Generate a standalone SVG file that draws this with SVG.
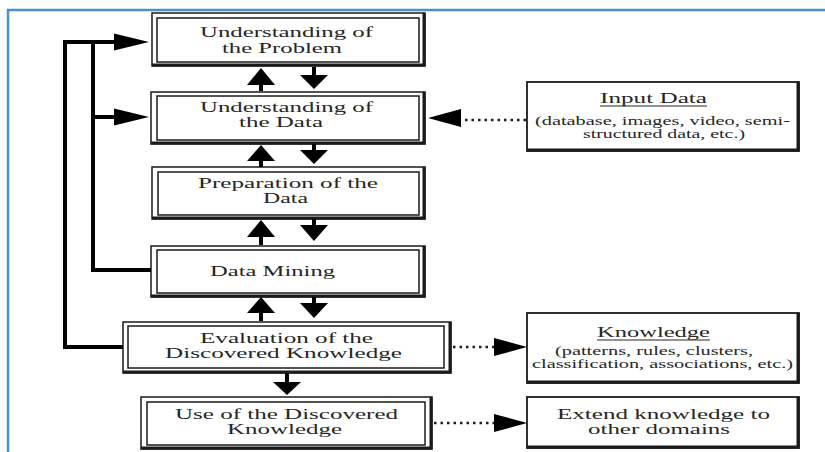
<svg xmlns="http://www.w3.org/2000/svg" width="825" height="452" viewBox="0 0 825 452">
<style>
  .frame { fill: none; stroke: #4a8fd6; stroke-width: 2.5; }
  .outer { fill: #ffffff; stroke: #1a1a1a; stroke-width: 1.5; }
  .inner { fill: #ffffff; stroke: #1a1a1a; stroke-width: 1.5; }
  .shadow { fill: none; stroke: #1a1a1a; stroke-width: 3; }
  .single { fill: #ffffff; stroke: #1a1a1a; stroke-width: 1.8; }
  .t { font-family: "Liberation Serif", "Times New Roman", serif; font-size: 14px; fill: #262626; text-anchor: middle; }
  .h { font-family: "Liberation Serif", "Times New Roman", serif; font-size: 15px; fill: #262626; text-anchor: middle; }
  .s { font-family: "Liberation Serif", "Times New Roman", serif; font-size: 12px; fill: #262626; text-anchor: middle; }
  .ul { stroke: #262626; stroke-width: 1; }
  .thick { fill: none; stroke: #000; stroke-width: 4; stroke-linejoin: miter; }
  .stem { stroke: #000; stroke-width: 4; }
  .head { fill: #000; }
  .dots { fill: none; stroke: #1a1a30; stroke-width: 2.5; stroke-dasharray: 2.5 4; }
</style>

<path class="frame" d="M 8 460 L 8 10 L 830 10"/>

<g id="understanding-problem">
  <rect class="outer" x="152" y="13" width="273" height="53"/>
  <path class="shadow" d="M 424 13 V 65 H 152"/>
  <rect class="inner" x="157" y="18" width="262" height="44"/>
  <text class="t" x="286.5" y="37" textLength="173" lengthAdjust="spacingAndGlyphs">Understanding of</text>
  <text class="t" x="282" y="52.5" textLength="120" lengthAdjust="spacingAndGlyphs">the Problem</text>
</g>

<g id="understanding-data">
  <rect class="outer" x="151" y="92" width="274" height="52"/>
  <path class="shadow" d="M 424 92 V 143 H 151"/>
  <rect class="inner" x="157" y="96" width="262" height="44"/>
  <text class="t" x="286.5" y="112" textLength="173" lengthAdjust="spacingAndGlyphs">Understanding of</text>
  <text class="t" x="281" y="127" textLength="84" lengthAdjust="spacingAndGlyphs">the Data</text>
</g>

<g id="preparation-data">
  <rect class="outer" x="152" y="167" width="273" height="52"/>
  <path class="shadow" d="M 424 167 V 218 H 152"/>
  <rect class="inner" x="158" y="172" width="261" height="43"/>
  <text class="t" x="288" y="188" textLength="180" lengthAdjust="spacingAndGlyphs">Preparation of the</text>
  <text class="t" x="285.5" y="203" textLength="45" lengthAdjust="spacingAndGlyphs">Data</text>
</g>

<g id="data-mining">
  <rect class="outer" x="151" y="246" width="274" height="51"/>
  <path class="shadow" d="M 424 246 V 296 H 151"/>
  <rect class="inner" x="157" y="250" width="262" height="43"/>
  <text class="t" x="272.5" y="276" textLength="125" lengthAdjust="spacingAndGlyphs">Data Mining</text>
</g>

<g id="evaluation">
  <rect class="outer" x="123" y="322" width="328" height="51"/>
  <path class="shadow" d="M 450 322 V 372 H 123"/>
  <rect class="inner" x="128" y="326" width="316" height="42"/>
  <text class="t" x="286.5" y="343" textLength="173" lengthAdjust="spacingAndGlyphs">Evaluation of the</text>
  <text class="t" x="283.5" y="357.5" textLength="237" lengthAdjust="spacingAndGlyphs">Discovered Knowledge</text>
</g>

<g id="use-knowledge">
  <rect class="outer" x="141" y="397" width="291" height="52"/>
  <path class="shadow" d="M 431 397 V 448 H 141"/>
  <rect class="inner" x="147" y="402" width="278" height="43"/>
  <text class="t" x="286.5" y="419" textLength="223" lengthAdjust="spacingAndGlyphs">Use of the Discovered</text>
  <text class="t" x="284.5" y="433.5" textLength="115" lengthAdjust="spacingAndGlyphs">Knowledge</text>
</g>

<g id="input-data">
  <rect class="single" x="527" y="82" width="272" height="69"/>
  <path class="shadow" d="M 798 82 V 150 H 527"/>
  <text class="h" x="653.5" y="103" textLength="107" lengthAdjust="spacingAndGlyphs">Input Data</text>
  <line class="ul" x1="600" y1="106" x2="707" y2="106"/>
  <text class="s" x="662.5" y="125" textLength="255" lengthAdjust="spacingAndGlyphs">(database, images, video, semi-</text>
  <text class="s" x="664" y="137.5" textLength="162" lengthAdjust="spacingAndGlyphs">structured data, etc.)</text>
</g>

<g id="knowledge">
  <rect class="single" x="527" y="313" width="272" height="70"/>
  <path class="shadow" d="M 798 313 V 382 H 527"/>
  <text class="h" x="653.5" y="337" textLength="113" lengthAdjust="spacingAndGlyphs">Knowledge</text>
  <line class="ul" x1="597" y1="340" x2="710" y2="340"/>
  <text class="s" x="654" y="355" textLength="198" lengthAdjust="spacingAndGlyphs">(patterns, rules, clusters,</text>
  <text class="s" x="662.5" y="367.5" textLength="261" lengthAdjust="spacingAndGlyphs">classification, associations, etc.)</text>
</g>

<g id="extend-knowledge">
  <rect class="single" x="527" y="397" width="272" height="51"/>
  <path class="shadow" d="M 798 397 V 447 H 527"/>
  <text class="h" x="663.5" y="419" textLength="213" lengthAdjust="spacingAndGlyphs">Extend knowledge to</text>
  <text class="h" x="659" y="433.5" textLength="142" lengthAdjust="spacingAndGlyphs">other domains</text>
</g>

<g id="connectors">
  <!-- feedback loops -->
  <path class="thick" d="M 123 347 H 65 V 42 H 116"/>
  <polygon class="head" points="114,33.5 149,42 114,50.5"/>
  <path class="thick" d="M 151 270 H 93 V 42"/>
  <path class="thick" d="M 93 117 H 116"/>
  <polygon class="head" points="114,108.5 149,117 114,125.5"/>

  <!-- gap 1 -->
  <line class="stem" x1="261" y1="84" x2="261" y2="91"/>
  <polygon class="head" points="261,68 275,85 247,85"/>
  <line class="stem" x1="314" y1="67" x2="314" y2="76"/>
  <polygon class="head" points="300,75 328,75 314,89"/>
  <!-- gap 2 -->
  <line class="stem" x1="261" y1="160" x2="261" y2="167"/>
  <polygon class="head" points="261,145 275,161 247,161"/>
  <line class="stem" x1="314" y1="144" x2="314" y2="152"/>
  <polygon class="head" points="300,150 328,150 314,164"/>
  <!-- gap 3 -->
  <line class="stem" x1="261" y1="236" x2="261" y2="245"/>
  <polygon class="head" points="261,220 275,237 247,237"/>
  <line class="stem" x1="314" y1="219" x2="314" y2="226"/>
  <polygon class="head" points="300,225 328,225 314,241"/>
  <!-- gap 4 -->
  <line class="stem" x1="261" y1="312" x2="261" y2="321"/>
  <polygon class="head" points="261,297 275,313 247,313"/>
  <line class="stem" x1="314" y1="297" x2="314" y2="304"/>
  <polygon class="head" points="300,303 328,303 314,318"/>
  <!-- evaluation to use -->
  <line class="stem" x1="287" y1="373" x2="287" y2="383"/>
  <polygon class="head" points="273,382 301,382 287,395"/>

  <!-- dotted -->
  <line class="dots" x1="526" y1="120" x2="462" y2="120"/>
  <polygon class="head" points="428,118 461,109 461,127"/>
  <line class="dots" x1="453" y1="347" x2="495" y2="347"/>
  <polygon class="head" points="527,347 494,338 494,356"/>
  <line class="dots" x1="434" y1="423" x2="495" y2="423"/>
  <polygon class="head" points="527,423 494,414 494,432"/>
</g>
</svg>
